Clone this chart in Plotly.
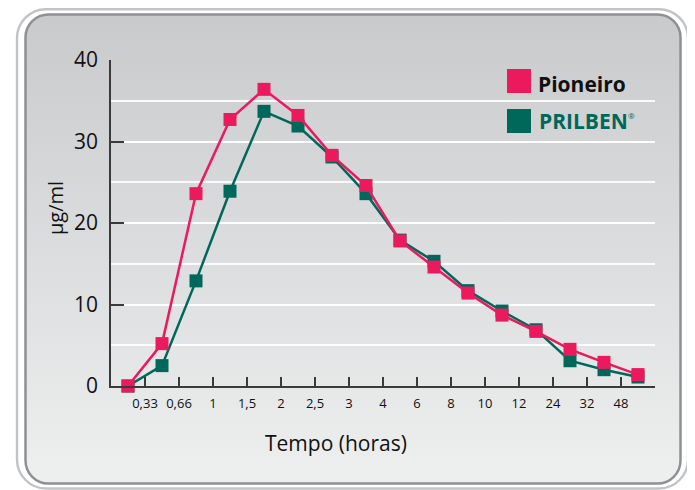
import base64
import plotly.graph_objects as go

# ---- data ----
time_points = ["0", "0,33", "0,66", "1", "1,5", "2", "2,5", "3", "4", "6", "8", "10", "12", "24", "32", "48"]
tick_labels = ["0,33", "0,66", "1", "1,5", "2", "2,5", "3", "4", "6", "8", "10", "12", "24", "32", "48"]
pioneiro = [0, 5.2, 23.6, 32.7, 36.4, 33.2, 28.3, 24.6, 17.8, 14.6, 11.4, 8.7, 6.7, 4.5, 2.9, 1.4]
prilben = [0, 2.5, 12.9, 23.9, 33.7, 31.9, 28.1, 23.6, 17.9, 15.3, 11.7, 9.2, 6.9, 3.1, 2.0, 1.1]
y_ticks = [0, 10, 20, 30, 40]

PINK = "#EA1A5D"
TEAL = "#00675B"
FONT = "Open Sans"

OFF = 8                      # page body margin in the browser
W, H = 695 - OFF, 490 - OFF  # figure size
PL, PT = 111, 60             # plot area top-left in screenshot pixels
PW, PH = 544, 326            # plot area size
L, T = PL - OFF, PT - OFF
R, B = W - L - PW, H - T - PH


def px_x(p):
    return (p - PL) / PW


def px_y(p):
    return (PT + PH - p) / PH


idx = list(range(len(time_points)))
tick_pos = [i + 0.5 for i in range(len(tick_labels))]

# background frame as SVG (rounded double border + vertical gradient), figure coords
svg = f"""<svg xmlns='http://www.w3.org/2000/svg' width='{W}' height='{H}' viewBox='0 0 {W} {H}'>
<defs><linearGradient id='g' x1='0' y1='0' x2='0' y2='1'>
<stop offset='0' stop-color='#C9CACC'/><stop offset='1' stop-color='#EEEFEF'/></linearGradient></defs>
<rect x='{17 - OFF}' y='1.2' width='671' height='{488.5 - OFF - 1.2}' rx='29' fill='#FFFFFF' stroke='#C2C3C5' stroke-width='2.4'/>
<rect x='{25.5 - OFF}' y='{14.5 - OFF}' width='655' height='469' rx='23' fill='url(#g)' stroke='#8E9094' stroke-width='2.5'/>
</svg>"""
svg_uri = "data:image/svg+xml;base64," + base64.b64encode(svg.encode()).decode()

fig = go.Figure()
fig.add_trace(go.Scatter(
    x=idx, y=prilben, mode="lines+markers", name="PRILBEN",
    line=dict(color=TEAL, width=2.5),
    marker=dict(symbol="square", size=13, color=TEAL),
    cliponaxis=False, showlegend=False))
fig.add_trace(go.Scatter(
    x=idx, y=pioneiro, mode="lines+markers", name="Pioneiro",
    line=dict(color=PINK, width=2.5),
    marker=dict(symbol="square", size=13, color=PINK),
    cliponaxis=False, showlegend=False))

shapes = [
    dict(type="rect", xref="paper", yref="paper",
         x0=px_x(507), x1=px_x(531), y0=px_y(93), y1=px_y(69),
         fillcolor=PINK, line=dict(width=0)),
    dict(type="rect", xref="paper", yref="paper",
         x0=px_x(507), x1=px_x(531), y0=px_y(133), y1=px_y(109),
         fillcolor=TEAL, line=dict(width=0)),
]

annotations = [
    dict(text="<b>Pioneiro</b>", xref="paper", yref="paper", x=px_x(536), y=px_y(84),
         xanchor="left", yanchor="middle", showarrow=False,
         font=dict(family=FONT, size=21, color="#111111")),
    dict(text="<b>PRILBEN</b>",
         xref="paper", yref="paper", x=px_x(537), y=px_y(121),
         xanchor="left", yanchor="middle", showarrow=False,
         font=dict(family=FONT, size=21, color=TEAL)),
    dict(text="®", xref="paper", yref="paper", x=px_x(626), y=px_y(115),
         xanchor="left", yanchor="middle", showarrow=False,
         font=dict(family=FONT, size=8, color=TEAL)),
    dict(text="Tempo (horas)", xref="paper", yref="paper", x=px_x(336), y=px_y(443),
         xanchor="center", yanchor="middle", showarrow=False,
         font=dict(family=FONT, size=21, color="#111111")),
    dict(text="µg/ml", xref="paper", yref="paper", x=px_x(55), y=px_y(208),
         xanchor="center", yanchor="middle", showarrow=False, textangle=-90,
         font=dict(family=FONT, size=20, color="#111111")),
]

fig.update_layout(
    width=W, height=H,
    margin=dict(l=L, r=R, t=T, b=B, pad=0),
    paper_bgcolor="#FFFFFF",
    plot_bgcolor="rgba(0,0,0,0)",
    showlegend=False,
    shapes=shapes,
    annotations=annotations,
    images=[dict(source=svg_uri, xref="paper", yref="paper",
                 x=px_x(OFF), y=px_y(OFF), sizex=W / PW, sizey=H / PH,
                 xanchor="left", yanchor="top", sizing="stretch", layer="below")],
    xaxis=dict(
        range=[-0.5, len(time_points) - 0.5],
        tickmode="array", tickvals=tick_pos, ticktext=tick_labels,
        ticks="inside", ticklen=9, tickwidth=1.5, tickcolor="#3A3A3A",
        minor=dict(tick0=0.5, dtick=1, ticks="inside", ticklen=9, tickwidth=1.5,
                   tickcolor="#3A3A3A", showgrid=False),
        showline=True, linecolor="#3A3A3A", linewidth=1.8,
        showgrid=False, zeroline=False,
        tickfont=dict(family=FONT, size=13, color="#111111"),
        ticklabelstandoff=4,
    ),
    yaxis=dict(
        range=[0, 40],
        tickmode="array", tickvals=y_ticks,
        ticks="inside", ticklen=13, tickwidth=1.8, tickcolor="#3A3A3A",
        showline=True, linecolor="#3A3A3A", linewidth=1.8,
        showgrid=True, gridcolor="rgba(255,255,255,0.9)", gridwidth=1.5,
        zeroline=False,
        minor=dict(dtick=5, showgrid=True, gridcolor="rgba(255,255,255,0.9)", gridwidth=1.5, ticks=""),
        tickfont=dict(family=FONT, size=21, color="#111111"),
        ticklabelstandoff=7,
    ),
)

fig.write_html("out.html")
